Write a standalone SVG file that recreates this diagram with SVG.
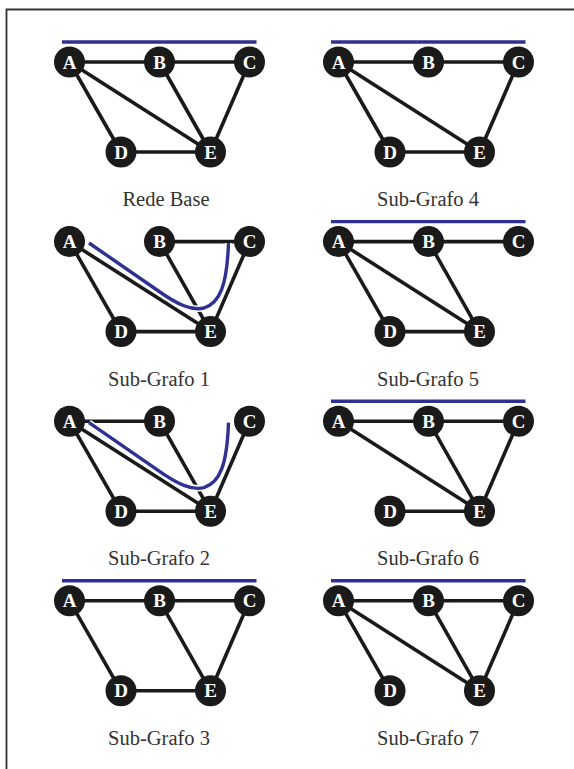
<svg xmlns="http://www.w3.org/2000/svg" width="574" height="769" viewBox="0 0 574 769">
<style>
.frame{fill:none;stroke:#333;stroke-width:1.8}
.edge{stroke:#1a1a1a;stroke-width:3.6;stroke-linecap:butt;fill:none}
.blue{stroke:#2e3192;stroke-width:3.4;fill:none}
.halo{stroke:#fff;stroke-width:6.5;fill:none}
.node circle{fill:#1a1a1a}
.node text{fill:#fff;font-family:"Liberation Serif",serif;font-weight:bold;font-size:19px;text-anchor:middle}
.label{fill:#333;font-family:"Liberation Serif",serif;font-size:20.5px;text-anchor:middle}
</style>
<defs>
<path id="curve" d="M89,243 L157,290 C178,305 192,311 204,308 C220,303 227,285 228.5,243"/>
</defs>
<path class="frame" d="M6.5,769 V9.5 H574"/>

<!-- Rede Base -->
<g id="rede-base">
<line class="blue" x1="62" y1="42" x2="256.5" y2="42"/>
<g id="rede-base-connectors">
<line class="edge" x1="69.5" y1="62" x2="159.5" y2="62"/>
<line class="edge" x1="159.5" y1="62" x2="249.5" y2="62"/>
<line class="edge" x1="69.5" y1="62" x2="121" y2="152"/>
<line class="edge" x1="69.5" y1="62" x2="210.5" y2="152"/>
<line class="edge" x1="159.5" y1="62" x2="210.5" y2="152"/>
<line class="edge" x1="249.5" y1="62" x2="210.5" y2="152"/>
<line class="edge" x1="121" y1="152" x2="210.5" y2="152"/>
</g>
<g id="rb-A" class="node"><circle cx="69.5" cy="62" r="15.5"/><text x="69.5" y="68.5">A</text></g>
<g id="rb-B" class="node"><circle cx="159.5" cy="62" r="15.5"/><text x="159.5" y="68.5">B</text></g>
<g id="rb-C" class="node"><circle cx="249.5" cy="62" r="15.5"/><text x="249.5" y="68.5">C</text></g>
<g id="rb-D" class="node"><circle cx="121" cy="152" r="15.5"/><text x="121" y="158.5">D</text></g>
<g id="rb-E" class="node"><circle cx="210.5" cy="152" r="15.5"/><text x="210.5" y="158.5">E</text></g>
<text class="label" x="166" y="206">Rede Base</text>
</g>

<!-- Sub-Grafo 1 -->
<g id="sub-grafo-1" transform="translate(0,179.6)">
<g id="sg1-connectors">
<line class="edge" x1="159.5" y1="62" x2="249.5" y2="62"/>
<line class="edge" x1="69.5" y1="62" x2="121" y2="152"/>
<line class="edge" x1="69.5" y1="62" x2="210.5" y2="152"/>
<line class="edge" x1="159.5" y1="62" x2="210.5" y2="152"/>
<line class="edge" x1="249.5" y1="62" x2="210.5" y2="152"/>
<line class="edge" x1="121" y1="152" x2="210.5" y2="152"/>
<use href="#curve" class="halo" transform="translate(0,-179.6)"/>
<use href="#curve" class="blue" transform="translate(0,-179.6)"/>
</g>
<g id="sg1-A" class="node"><circle cx="69.5" cy="62" r="15.5"/><text x="69.5" y="68.5">A</text></g>
<g id="sg1-B" class="node"><circle cx="159.5" cy="62" r="15.5"/><text x="159.5" y="68.5">B</text></g>
<g id="sg1-C" class="node"><circle cx="249.5" cy="62" r="15.5"/><text x="249.5" y="68.5">C</text></g>
<g id="sg1-D" class="node"><circle cx="121" cy="152" r="15.5"/><text x="121" y="158.5">D</text></g>
<g id="sg1-E" class="node"><circle cx="210.5" cy="152" r="15.5"/><text x="210.5" y="158.5">E</text></g>
<text class="label" x="159" y="206">Sub-Grafo 1</text>
</g>

<!-- Sub-Grafo 2 -->
<g id="sub-grafo-2" transform="translate(0,359.2)">
<g id="sg2-connectors">
<line class="edge" x1="69.5" y1="62" x2="159.5" y2="62"/>
<line class="edge" x1="69.5" y1="62" x2="121" y2="152"/>
<line class="edge" x1="69.5" y1="62" x2="210.5" y2="152"/>
<line class="edge" x1="159.5" y1="62" x2="210.5" y2="152"/>
<line class="edge" x1="249.5" y1="62" x2="210.5" y2="152"/>
<line class="edge" x1="121" y1="152" x2="210.5" y2="152"/>
<use href="#curve" class="halo" transform="translate(0,-179.6)"/>
<use href="#curve" class="blue" transform="translate(0,-179.6)"/>
</g>
<g id="sg2-A" class="node"><circle cx="69.5" cy="62" r="15.5"/><text x="69.5" y="68.5">A</text></g>
<g id="sg2-B" class="node"><circle cx="159.5" cy="62" r="15.5"/><text x="159.5" y="68.5">B</text></g>
<g id="sg2-C" class="node"><circle cx="249.5" cy="62" r="15.5"/><text x="249.5" y="68.5">C</text></g>
<g id="sg2-D" class="node"><circle cx="121" cy="152" r="15.5"/><text x="121" y="158.5">D</text></g>
<g id="sg2-E" class="node"><circle cx="210.5" cy="152" r="15.5"/><text x="210.5" y="158.5">E</text></g>
<text class="label" x="159" y="206">Sub-Grafo 2</text>
</g>

<!-- Sub-Grafo 3 -->
<g id="sub-grafo-3" transform="translate(0,538.8)">
<line class="blue" x1="62" y1="42" x2="256.5" y2="42"/>
<g id="sg3-connectors">
<line class="edge" x1="69.5" y1="62" x2="159.5" y2="62"/>
<line class="edge" x1="159.5" y1="62" x2="249.5" y2="62"/>
<line class="edge" x1="69.5" y1="62" x2="121" y2="152"/>
<line class="edge" x1="159.5" y1="62" x2="210.5" y2="152"/>
<line class="edge" x1="249.5" y1="62" x2="210.5" y2="152"/>
<line class="edge" x1="121" y1="152" x2="210.5" y2="152"/>
</g>
<g id="sg3-A" class="node"><circle cx="69.5" cy="62" r="15.5"/><text x="69.5" y="68.5">A</text></g>
<g id="sg3-B" class="node"><circle cx="159.5" cy="62" r="15.5"/><text x="159.5" y="68.5">B</text></g>
<g id="sg3-C" class="node"><circle cx="249.5" cy="62" r="15.5"/><text x="249.5" y="68.5">C</text></g>
<g id="sg3-D" class="node"><circle cx="121" cy="152" r="15.5"/><text x="121" y="158.5">D</text></g>
<g id="sg3-E" class="node"><circle cx="210.5" cy="152" r="15.5"/><text x="210.5" y="158.5">E</text></g>
<text class="label" x="159" y="206">Sub-Grafo 3</text>
</g>

<!-- Sub-Grafo 4 -->
<g id="sub-grafo-4" transform="translate(269,0)">
<line class="blue" x1="62" y1="42" x2="256.5" y2="42"/>
<g id="sg4-connectors">
<line class="edge" x1="69.5" y1="62" x2="159.5" y2="62"/>
<line class="edge" x1="159.5" y1="62" x2="249.5" y2="62"/>
<line class="edge" x1="69.5" y1="62" x2="121" y2="152"/>
<line class="edge" x1="69.5" y1="62" x2="210.5" y2="152"/>
<line class="edge" x1="249.5" y1="62" x2="210.5" y2="152"/>
<line class="edge" x1="121" y1="152" x2="210.5" y2="152"/>
</g>
<g id="sg4-A" class="node"><circle cx="69.5" cy="62" r="15.5"/><text x="69.5" y="68.5">A</text></g>
<g id="sg4-B" class="node"><circle cx="159.5" cy="62" r="15.5"/><text x="159.5" y="68.5">B</text></g>
<g id="sg4-C" class="node"><circle cx="249.5" cy="62" r="15.5"/><text x="249.5" y="68.5">C</text></g>
<g id="sg4-D" class="node"><circle cx="121" cy="152" r="15.5"/><text x="121" y="158.5">D</text></g>
<g id="sg4-E" class="node"><circle cx="210.5" cy="152" r="15.5"/><text x="210.5" y="158.5">E</text></g>
<text class="label" x="159" y="206">Sub-Grafo 4</text>
</g>

<!-- Sub-Grafo 5 -->
<g id="sub-grafo-5" transform="translate(269,179.6)">
<line class="blue" x1="62" y1="42" x2="256.5" y2="42"/>
<g id="sg5-connectors">
<line class="edge" x1="69.5" y1="62" x2="159.5" y2="62"/>
<line class="edge" x1="159.5" y1="62" x2="249.5" y2="62"/>
<line class="edge" x1="69.5" y1="62" x2="121" y2="152"/>
<line class="edge" x1="69.5" y1="62" x2="210.5" y2="152"/>
<line class="edge" x1="159.5" y1="62" x2="210.5" y2="152"/>
<line class="edge" x1="121" y1="152" x2="210.5" y2="152"/>
</g>
<g id="sg5-A" class="node"><circle cx="69.5" cy="62" r="15.5"/><text x="69.5" y="68.5">A</text></g>
<g id="sg5-B" class="node"><circle cx="159.5" cy="62" r="15.5"/><text x="159.5" y="68.5">B</text></g>
<g id="sg5-C" class="node"><circle cx="249.5" cy="62" r="15.5"/><text x="249.5" y="68.5">C</text></g>
<g id="sg5-D" class="node"><circle cx="121" cy="152" r="15.5"/><text x="121" y="158.5">D</text></g>
<g id="sg5-E" class="node"><circle cx="210.5" cy="152" r="15.5"/><text x="210.5" y="158.5">E</text></g>
<text class="label" x="159" y="206">Sub-Grafo 5</text>
</g>

<!-- Sub-Grafo 6 -->
<g id="sub-grafo-6" transform="translate(269,359.2)">
<line class="blue" x1="62" y1="42" x2="256.5" y2="42"/>
<g id="sg6-connectors">
<line class="edge" x1="69.5" y1="62" x2="159.5" y2="62"/>
<line class="edge" x1="159.5" y1="62" x2="249.5" y2="62"/>
<line class="edge" x1="69.5" y1="62" x2="210.5" y2="152"/>
<line class="edge" x1="159.5" y1="62" x2="210.5" y2="152"/>
<line class="edge" x1="249.5" y1="62" x2="210.5" y2="152"/>
<line class="edge" x1="121" y1="152" x2="210.5" y2="152"/>
</g>
<g id="sg6-A" class="node"><circle cx="69.5" cy="62" r="15.5"/><text x="69.5" y="68.5">A</text></g>
<g id="sg6-B" class="node"><circle cx="159.5" cy="62" r="15.5"/><text x="159.5" y="68.5">B</text></g>
<g id="sg6-C" class="node"><circle cx="249.5" cy="62" r="15.5"/><text x="249.5" y="68.5">C</text></g>
<g id="sg6-D" class="node"><circle cx="121" cy="152" r="15.5"/><text x="121" y="158.5">D</text></g>
<g id="sg6-E" class="node"><circle cx="210.5" cy="152" r="15.5"/><text x="210.5" y="158.5">E</text></g>
<text class="label" x="159" y="206">Sub-Grafo 6</text>
</g>

<!-- Sub-Grafo 7 -->
<g id="sub-grafo-7" transform="translate(269,538.8)">
<line class="blue" x1="62" y1="42" x2="256.5" y2="42"/>
<g id="sg7-connectors">
<line class="edge" x1="69.5" y1="62" x2="159.5" y2="62"/>
<line class="edge" x1="159.5" y1="62" x2="249.5" y2="62"/>
<line class="edge" x1="69.5" y1="62" x2="121" y2="152"/>
<line class="edge" x1="69.5" y1="62" x2="210.5" y2="152"/>
<line class="edge" x1="159.5" y1="62" x2="210.5" y2="152"/>
<line class="edge" x1="249.5" y1="62" x2="210.5" y2="152"/>
</g>
<g id="sg7-A" class="node"><circle cx="69.5" cy="62" r="15.5"/><text x="69.5" y="68.5">A</text></g>
<g id="sg7-B" class="node"><circle cx="159.5" cy="62" r="15.5"/><text x="159.5" y="68.5">B</text></g>
<g id="sg7-C" class="node"><circle cx="249.5" cy="62" r="15.5"/><text x="249.5" y="68.5">C</text></g>
<g id="sg7-D" class="node"><circle cx="121" cy="152" r="15.5"/><text x="121" y="158.5">D</text></g>
<g id="sg7-E" class="node"><circle cx="210.5" cy="152" r="15.5"/><text x="210.5" y="158.5">E</text></g>
<text class="label" x="159" y="206">Sub-Grafo 7</text>
</g>
</svg>
